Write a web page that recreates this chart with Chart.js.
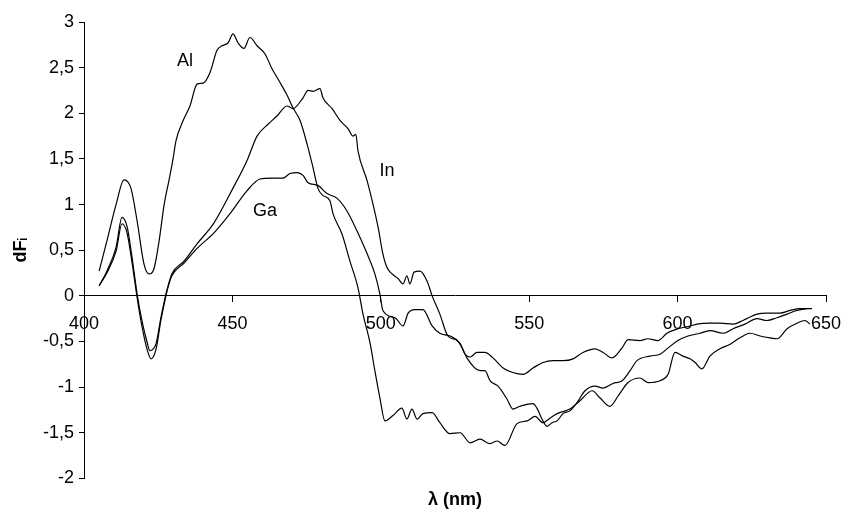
<!DOCTYPE html>
<html>
<head>
<meta charset="utf-8">
<title>dFi spectra</title>
<script src="https://cdn.jsdelivr.net/npm/chart.js@4.4.1/dist/chart.umd.min.js"></script>
<style>
  html, body { margin: 0; padding: 0; background: #fff; }
  #wrap { width: 843px; height: 511px; }
</style>
</head>
<body>
<div id="wrap"><canvas id="chartContainer"></canvas></div>
<script>
"use strict";

// 1: data (wavelength in nm, dFi)
const alNm = [405.1, 407.7, 410.8, 413.5, 415.8, 417.9, 420.2, 421.9, 423.6, 425.3, 427.0, 428.6, 430.0, 431.0, 433.4, 435.7,
  438.1, 440.1, 442.5, 444.8, 446.5, 448.5, 450.2, 451.9, 453.9, 455.9, 458.3, 461.0, 463.3, 466.0, 468.4, 470.4,
  472.8, 475.1, 477.2, 478.8, 480.5, 482.9, 483.9, 486.9, 489.6, 492.3, 494.0, 496.4, 498.0, 499.7, 501.4, 504.1,
  507.1, 508.8, 510.5, 512.2, 514.2, 517.3, 519.9, 523.3, 526.7, 530.1, 533.4, 536.8, 539.2, 541.8, 545.9, 549.3,
  552.0, 554.6, 557.0, 559.4, 563.7, 567.1, 571.2, 573.9, 577.2, 579.9, 583.3, 587.3, 590.0, 594.1, 596.8, 599.1,
  601.8, 604.2, 605.9, 608.2, 610.9, 614.3, 617.7, 621.0, 624.4, 627.8, 631.1, 633.5, 636.9, 640.2, 642.9, 644.6];
const alDf = [0.27, 0.60, 1.00, 1.27, 1.18, 0.82, 0.35, 0.24, 0.30, 0.60, 1.00, 1.26, 1.50, 1.70, 1.92, 2.08,
  2.32, 2.33, 2.45, 2.69, 2.74, 2.77, 2.87, 2.77, 2.71, 2.83, 2.74, 2.65, 2.49, 2.34, 2.20, 2.06,
  1.92, 1.67, 1.40, 1.18, 1.10, 1.04, 0.90, 0.68, 0.38, 0.09, -0.20, -0.52, -0.82, -1.12, -1.37, -1.31,
  -1.23, -1.35, -1.24, -1.35, -1.29, -1.28, -1.39, -1.51, -1.50, -1.61, -1.57, -1.62, -1.59, -1.64, -1.40, -1.37,
  -1.32, -1.39, -1.34, -1.29, -1.24, -1.15, -1.04, -1.12, -1.21, -1.10, -0.95, -0.90, -0.95, -0.93, -0.86, -0.62,
  -0.66, -0.69, -0.73, -0.80, -0.66, -0.58, -0.53, -0.46, -0.41, -0.44, -0.46, -0.47, -0.36, -0.30, -0.27, -0.31];

const inNm = [405.1, 407.7, 410.8, 412.8, 414.5, 416.2, 417.9, 419.5, 421.2, 422.2, 424.3, 425.9, 427.6, 428.6, 429.6, 433.7,
  438.1, 443.8, 450.2, 454.9, 458.3, 462.0, 465.0, 468.4, 470.4, 473.8, 475.5, 477.2, 479.5, 480.5, 483.6, 486.3,
  489.0, 490.6, 491.6, 492.3, 495.4, 497.4, 499.1, 500.7, 502.1, 503.8, 505.8, 507.5, 508.8, 509.8, 511.2, 513.2,
  515.6, 517.3, 519.9, 522.6, 525.7, 527.4, 529.0, 533.4, 535.1, 536.8, 539.5, 542.5, 544.5, 546.9, 551.3, 552.6,
  554.3, 556.0, 557.7, 559.4, 561.4, 563.7, 566.1, 568.8, 572.2, 574.9, 578.2, 581.3, 584.0, 586.3, 590.7, 594.1,
  596.8, 600.1, 603.5, 607.5, 610.9, 615.3, 618.7, 622.7, 626.8, 630.1, 633.5, 636.9, 640.2, 643.6];
const inDf = [0.11, 0.27, 0.53, 0.86, 0.76, 0.42, 0.02, -0.27, -0.50, -0.60, -0.52, -0.24, 0.02, 0.14, 0.24, 0.38,
  0.57, 0.80, 1.18, 1.48, 1.75, 1.88, 1.97, 2.08, 2.05, 2.17, 2.25, 2.24, 2.27, 2.17, 2.05, 1.92,
  1.83, 1.75, 1.77, 1.59, 1.26, 1.00, 0.75, 0.46, 0.31, 0.24, 0.19, 0.13, 0.22, 0.13, 0.26, 0.27,
  0.16, 0.00, -0.20, -0.44, -0.49, -0.57, -0.68, -0.82, -0.82, -0.93, -0.99, -1.13, -1.24, -1.21, -1.18, -1.23,
  -1.35, -1.43, -1.39, -1.37, -1.29, -1.26, -1.17, -1.04, -0.99, -1.01, -0.96, -0.93, -0.82, -0.71, -0.66, -0.64,
  -0.57, -0.49, -0.44, -0.41, -0.38, -0.41, -0.36, -0.31, -0.25, -0.27, -0.24, -0.20, -0.16, -0.14];

const gaNm = [405.1, 407.7, 410.8, 412.8, 414.5, 416.2, 417.9, 419.5, 421.2, 422.6, 424.3, 425.9, 427.6, 428.6, 429.6, 433.7,
  438.1, 443.8, 449.2, 454.9, 459.3, 463.3, 467.0, 469.4, 471.8, 473.8, 475.5, 478.8, 481.9, 485.2, 488.6, 492.0,
  495.4, 498.0, 499.7, 500.7, 504.8, 507.5, 509.2, 511.5, 514.2, 517.3, 519.9, 523.3, 526.7, 528.4, 530.1, 532.4,
  535.1, 537.8, 541.2, 544.5, 547.9, 551.3, 554.7, 558.0, 561.4, 564.8, 568.1, 572.2, 574.9, 577.9, 581.3, 583.3,
  587.3, 590.0, 593.4, 596.4, 600.1, 604.2, 606.5, 610.9, 614.3, 618.7, 622.0, 626.8, 630.1, 634.5, 637.9, 641.2, 645.3];
const gaDf = [0.11, 0.25, 0.49, 0.79, 0.69, 0.36, -0.02, -0.33, -0.58, -0.69, -0.58, -0.27, 0.00, 0.13, 0.22, 0.36,
  0.52, 0.69, 0.90, 1.15, 1.28, 1.29, 1.29, 1.34, 1.35, 1.32, 1.24, 1.21, 1.12, 1.07, 0.93, 0.71,
  0.46, 0.24, 0.02, -0.16, -0.24, -0.33, -0.19, -0.15, -0.15, -0.33, -0.41, -0.44, -0.52, -0.64, -0.67, -0.62,
  -0.62, -0.68, -0.79, -0.84, -0.86, -0.79, -0.73, -0.71, -0.71, -0.69, -0.62, -0.58, -0.62, -0.68, -0.57, -0.48,
  -0.49, -0.47, -0.49, -0.41, -0.36, -0.33, -0.31, -0.30, -0.30, -0.31, -0.27, -0.20, -0.19, -0.19, -0.16, -0.14, -0.14];

// curve names and where they are written (nm, dFi)
const curveNames = ['Al', 'In', 'Ga'];
const nameNm = [434.0, 502.1, 461.0];
const nameDf = [2.57, 1.37, 0.93];

const xRange = [400, 650];
const xStep = 50;
const yRange = [-2, 3];
const yStep = 0.5;

const FONT = "'Liberation Sans', Arial, Helvetica, sans-serif";

// 2: prepare data for chart
function prepareData(nm, df) {
  let points = [];
  for (let i = 0; i < nm.length; i++) {
    points.push({ x: nm[i], y: df[i] });
  }
  return points;
}

function commaDecimal(value) {
  return String(Math.round(value * 10) / 10).replace('.', ',');
}

// writes Al / In / Ga next to the curves
const curveNamePlugin = {
  id: 'curveNames',
  afterDatasetsDraw(chart) {
    const ctx = chart.ctx;
    const xs = chart.scales.x;
    const ys = chart.scales.y;
    ctx.save();
    ctx.font = '18px ' + FONT;
    ctx.fillStyle = '#000';
    ctx.textAlign = 'center';
    ctx.textBaseline = 'middle';
    for (let i = 0; i < curveNames.length; i++) {
      ctx.fillText(curveNames[i], xs.getPixelForValue(nameNm[i]), ys.getPixelForValue(nameDf[i]));
    }
    ctx.restore();
  }
};

// 3: create and append the chart
function appendChart() {
  const lineStyle = {
    borderColor: '#000',
    borderWidth: 1.2,
    pointRadius: 0,
    fill: false,
    cubicInterpolationMode: 'monotone'
  };
  const chartContainer = document.getElementById('chartContainer');
  new Chart(chartContainer, {
    type: 'line',
    data: {
      datasets: [
        Object.assign({ label: 'Al', data: prepareData(alNm, alDf) }, lineStyle),
        Object.assign({ label: 'In', data: prepareData(inNm, inDf) }, lineStyle),
        Object.assign({ label: 'Ga', data: prepareData(gaNm, gaDf) }, lineStyle)
      ]
    },
    options: {
      responsive: true,
      maintainAspectRatio: false,
      animation: false,
      layout: { padding: { top: 22, right: 17, bottom: 0, left: 0 } },
      plugins: {
        legend: { display: false },
        tooltip: { enabled: false }
      },
      scales: {
        x: {
          type: 'linear',
          position: { y: 0 },
          min: xRange[0],
          max: xRange[1],
          grid: { drawOnChartArea: false, drawTicks: true, tickLength: 6, color: '#000', lineWidth: 1 },
          border: { display: true, color: '#000', width: 1 },
          ticks: {
            stepSize: xStep,
            color: '#000',
            padding: 11,
            maxRotation: 0,
            font: { family: FONT, size: 18 },
            callback: v => String(v)
          },
          afterFit: axis => {
            axis.height = 0;
            axis.paddingLeft = 0;
            axis.paddingRight = 0;
          }
        },
        x2: {
          type: 'linear',
          position: 'bottom',
          min: xRange[0],
          max: xRange[1],
          grid: { display: false, drawTicks: false },
          border: { display: false },
          ticks: { display: false },
          title: {
            display: true,
            text: 'λ (nm)',
            color: '#000',
            padding: { top: 11, bottom: 0 },
            font: { family: FONT, size: 18, weight: 'bold' }
          }
        },
        y: {
          type: 'linear',
          position: 'left',
          min: yRange[0],
          max: yRange[1],
          grid: { drawOnChartArea: false, drawTicks: true, tickLength: 5, color: '#000', lineWidth: 1 },
          border: { display: true, color: '#000', width: 1 },
          ticks: {
            stepSize: yStep,
            color: '#000',
            padding: 5,
            font: { family: FONT, size: 18 },
            callback: v => commaDecimal(v)
          },
          title: {
            display: true,
            text: 'dFᵢ',
            color: '#000',
            padding: { top: 10, bottom: 0 },
            font: { family: FONT, size: 18, weight: 'bold' }
          },
          afterFit: axis => {
            axis.width = 84;
          }
        }
      }
    },
    plugins: [curveNamePlugin]
  });
}

appendChart();
</script>
</body>
</html>
